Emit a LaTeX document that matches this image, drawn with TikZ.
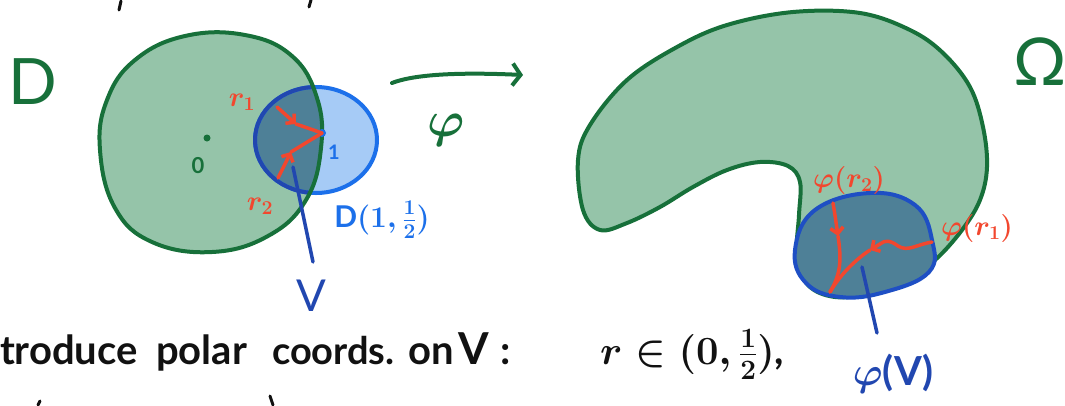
\RequirePackage{fix-cm}
\documentclass[tikz,border=0pt]{standalone}
\usepackage{fontspec}
\setmainfont{Lato}
\usetikzlibrary{arrows.meta}
\definecolor{cGfill}{HTML}{95C4A9}
\definecolor{cGline}{HTML}{17703A}
\definecolor{cBfill}{HTML}{A6CBF6}
\definecolor{cBline}{HTML}{1C70EA}
\definecolor{cLens}{HTML}{4E8097}
\definecolor{cDblue}{HTML}{2147B0}
\definecolor{cGVline}{HTML}{1E4FC4}
\definecolor{cRed}{HTML}{F2472E}
\definecolor{cInk}{HTML}{111111}
\newcommand{\fsz}[1]{\fontsize{#1}{#1}\selectfont}
\begin{document}
\begin{tikzpicture}[x=1pt,y=-1pt,
  greenline/.style={draw=cGline, line width=4pt, line cap=round, line join=round},
  blueline/.style={draw=cBline, line width=4pt},
  redline/.style={draw=cRed, line width=3.5pt, line cap=round, line join=round},
  barb/.style={-{Straight Barb[length=6pt,width=13pt]}},
  txt/.style={inner sep=0pt, outer sep=0pt, font=\bfseries\boldmath},
  inkline/.style={draw=cInk, line width=3pt, line cap=round}]
\useasboundingbox (0,0) rectangle (1065,405);
\def\Dshape{plot[smooth cycle, tension=0.7] coordinates {(100,150) (107,100) (135,60) (185,36) (245,35) (292,56) (317,98) (321,148) (306,200) (268,236) (212,252) (152,242) (115,208)}}
\def\Bshape{(316,140) ellipse [x radius=61pt, y radius=53pt]}
\def\Oshape{plot[smooth cycle, tension=0.6] coordinates {(578,160) (590,125) (627,80) (677,47) (727,25) (793,12) (860,13) (910,30) (943,53) (970,87) (983,127) (987,167) (980,200) (962,230) (935,260) (905,280) (870,293) (835,297) (808,285) (797,255) (799,215) (800,182) (788,166) (760,162) (727,170) (693,187) (660,207) (627,223) (600,230) (583,210)}}
\def\GVshape{plot[smooth cycle, tension=0.7] coordinates {(795,250) (815,210) (870,193) (915,205) (932,240) (929,272) (885,292) (840,297) (806,283)}}

% fragments of neighbouring lines
\draw[inkline] (121,1) -- (119,10);
\draw[inkline] (311,0) -- (309,7);
\draw[inkline] (40,401) -- (38,405);
\draw[inkline] (270,396) -- (273,405);

% unit disk D
\fill[cGfill] \Dshape;
\fill[cBfill] \Bshape;
\begin{scope}
  \clip \Dshape;
  \fill[cLens] \Bshape;
\end{scope}
\draw[blueline] \Bshape;
\begin{scope}
  \clip \Dshape;
  \draw[draw=cDblue, line width=4pt] \Bshape;
\end{scope}
\draw[greenline] \Dshape;

\node[txt, text=cGline, font=\mdseries] (Dlbl) at (33,82) {\fsz{64}D};
\fill[cGline] (207,138) circle (3.5pt) coordinate (origin);
\node[txt, text=cGline] (zero) at (198,166) {\fsz{22}0};
\fill[cBline] (322,133) circle (4pt) coordinate (one);
\node[txt, text=cBline] (onelbl) at (334,152) {\fsz{20}1};

% red radii
\node[txt, text=cRed] (r1) at (242,102) {\fsz{28}$r_{1}$};
\node[txt, text=cRed] (r2) at (260,206) {\fsz{28}$r_{2}$};
\coordinate (a1) at (277,107);
\coordinate (m1) at (296,124);
\coordinate (a2) at (278,178);
\coordinate (m2) at (291,152);
\draw[redline, barb] (a1) -- (m1);
\draw[redline] (m1) -- (one);
\draw[redline, barb] (a2) -- (m2);
\draw[redline] (m2) -- (one);

% V label
\coordinate (vin) at (293,167);
\coordinate (vend) at (313,262);
\draw[draw=cDblue, line width=3.5pt, line cap=round] (vin) -- (vend);
\node[txt, text=cDblue, font=\mdseries] (Vlbl) at (311,296) {\fsz{44}V};
\node[txt, text=cBline] (Dhalf) at (382,220) {\fsz{30}D$(1,\frac{1}{2})$};

% map arrow
\coordinate (pa) at (392,83);
\coordinate (pb) at (523,75);
\draw[greenline, -{Straight Barb[length=8pt,width=22pt]}] (pa) .. controls (420,72) and (480,73) .. (pb);
\node[txt, text=cGline] (phi) at (446,130) {\fsz{50}$\varphi$};

% Omega region
\fill[cGfill] \Oshape;
\draw[greenline] \Oshape;
\node[txt, text=cGline, font=\mdseries] (Om) at (1040,62) {\fsz{66}Ω};
\fill[cLens] \GVshape;
\draw[draw=cGVline, line width=4pt, line join=round] \GVshape;

% image curves
\coordinate (b1) at (833,203);
\coordinate (n1) at (838,236);
\coordinate (meet) at (830,292);
\coordinate (b2) at (932,242);
\coordinate (n2) at (880,244);
\draw[redline, barb] (b1) .. controls (835,215) .. (n1);
\draw[redline] (n1) .. controls (842,262) and (840,275) .. (meet);
\draw[redline] (b2) .. controls (915,245) and (908,252) .. (898,246) .. controls (890,240) and (885,240) .. (n2);
\draw[redline, barb] (n2) -- (870,250);
\draw[redline] (870,250) .. controls (855,260) and (840,275) .. (meet);
\node[txt, text=cRed] (pr2) at (849,180) {\fsz{28}$\varphi(r_{2})$};
\node[txt, text=cRed] (pr1) at (977,228) {\fsz{28}$\varphi(r_{1})$};

\coordinate (gvin) at (862,267);
\coordinate (gvend) at (877,333);
\draw[draw=cDblue, line width=3.5pt, line cap=round] (gvin) -- (gvend);
\node[txt, text=cDblue] (gVlbl) at (893,374) {\fsz{40}$\varphi$(V)};

% bottom text
\node[txt, text=cInk, anchor=base west] (w1) at (0,364) {\fsz{40}troduce};
\node[txt, text=cInk, anchor=base west] (w2) at (156,364) {\fsz{40}polar};
\node[txt, text=cInk, anchor=base west] (w3) at (272,364) {\fsz{38}coords.};
\node[txt, text=cInk, anchor=base west] (w4) at (408,364) {\fsz{40}on};
\node[txt, text=cInk, anchor=base west] (w5) at (458,364) {\fsz{44}V};
\node[txt, text=cInk, anchor=base west] (w5b) at (500,364) {\fsz{40}:};
\node[txt, text=cInk, anchor=base west] (w6) at (600,364) {\fsz{40}$r\in(0,\frac{1}{2})$,};
\end{tikzpicture}
\end{document}
